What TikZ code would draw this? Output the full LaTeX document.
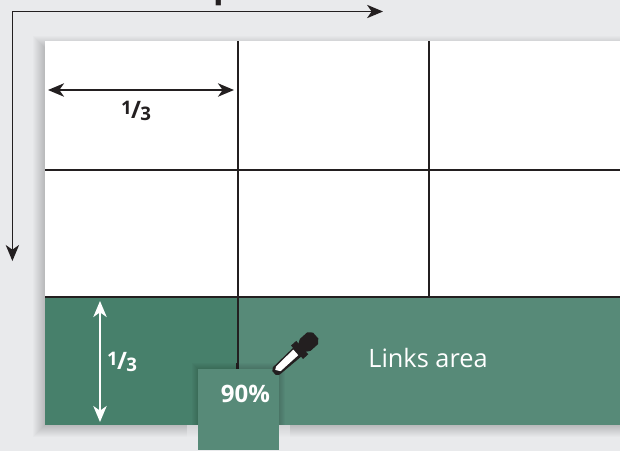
\documentclass[tikz,border=0pt]{standalone}
\usepackage{fontspec}
\setmainfont{Open Sans}
\usetikzlibrary{arrows.meta}
\definecolor{bgc}{HTML}{E9EAEC}
\definecolor{greena}{HTML}{47806B}
\definecolor{greenb}{HTML}{578A78}
\definecolor{inkc}{HTML}{231F20}
\tikzset{
  gridline/.style={draw=inkc,line width=1.5pt},
  darrow/.style={draw=inkc,line width=1pt},
  dbl/.style={line width=1.6pt,{Stealth[inset=3.5pt,length=12pt,width=10pt]}-{Stealth[inset=3.5pt,length=12pt,width=10pt]}},
  frac/.style={font=\bfseries\fontsize{18}{18}\selectfont,inner sep=0pt},
}
\newcommand{\onethird}{\raisebox{3pt}{\fontsize{14}{14}\selectfont 1}\kern-0.5pt/\kern-0.5pt\raisebox{-2pt}{\fontsize{14}{14}\selectfont 3}}
\begin{document}
\begin{tikzpicture}[x=0.75pt,y=-0.75pt]
\useasboundingbox (0,0) rectangle (620,451);
\fill[bgc] (0,0) rectangle (620,451);
% clipped heading
\node[anchor=base,inner sep=0pt,font=\bfseries\fontsize{26}{26}\selectfont,text=inkc] (heading) at (224,-3) {p};
% soft shadow of page
\foreach \g in {11,10,...,0}{
  \fill[black,opacity=0.016] (45-1-\g,41+6-\g) rectangle (640,425+1+\g);
}
% shadow weakened round the percentage box
\fill[bgc,opacity=0.55] (187,425) rectangle (290,451);
% page
\fill[white] (45,41) rectangle (620,297);
\fill[greena] (45,297) rectangle (238,425);
\fill[greenb] (238,297) rectangle (620,425);
% grid
\draw[gridline] (238,41) -- (238,369);
\draw[gridline] (429,41) -- (429,297);
\draw[gridline] (45,170) -- (620,170);
\draw[gridline] (45,296.5) -- (620,296.5);
\fill[inkc] (236,363) rectangle (239,369);
% axes
\coordinate (corner) at (12.4,11.5);
\coordinate (axisx) at (383,11.5);
\coordinate (axisy) at (12.4,261);
\draw[darrow,-{Stealth[inset=3.5pt,length=12pt,width=10pt]}] (corner) -- (axisx);
\draw[darrow,-{Stealth[inset=3.5pt,length=12pt,width=10pt]}] (corner) -- (axisy);
% thirds
\coordinate (wl) at (48,90);
\coordinate (wr) at (234,90);
\draw[dbl,draw=inkc] (wl) -- (wr);
\node[frac,text=inkc] (wlabel) at (136,111) {\onethird};
\coordinate (ht) at (100,301);
\coordinate (hb) at (100,422);
\draw[dbl,draw=white] (ht) -- (hb);
\node[frac,text=white] (hlabel) at (122,362) {\onethird};
% percentage box
\foreach \g in {6,5,...,1}{
  \fill[black,opacity=0.022] (198-\g,369-\g) rectangle (279+\g,425);
}
\node[fill=greenb,minimum width=60.75pt,minimum height=60.75pt,inner sep=0pt,anchor=north west] (pct) at (198,369) {};
\node[font=\bfseries\fontsize{18}{18}\selectfont,text=white,inner sep=0pt] (pctlabel) at (245.5,393.5) {90\%};
\node[font=\fontsize{19}{19}\selectfont,text=white,inner sep=0pt] (links) at (428,358) {Links area};
% dropper
\begin{scope}[shift={(274,373)},rotate=42]
  \fill[inkc] (0,-2.5) -- (3,-5) -- (32,-6) -- (32,6) -- (3,5) -- (0,2.5) -- cycle;
  \fill[white] (3,-1.5) -- (6,-3.5) -- (30,-4.5) -- (30,3) -- (6,3) -- cycle;
  \fill[inkc] (31,-9) rectangle (38,9);
  \fill[inkc] (37,-5) -- (42,-8) -- (52,-8) -- (56,-4) -- (56,4) -- (52,8) -- (42,8) -- (37,5) -- cycle;
\end{scope}
\end{tikzpicture}
\end{document}
